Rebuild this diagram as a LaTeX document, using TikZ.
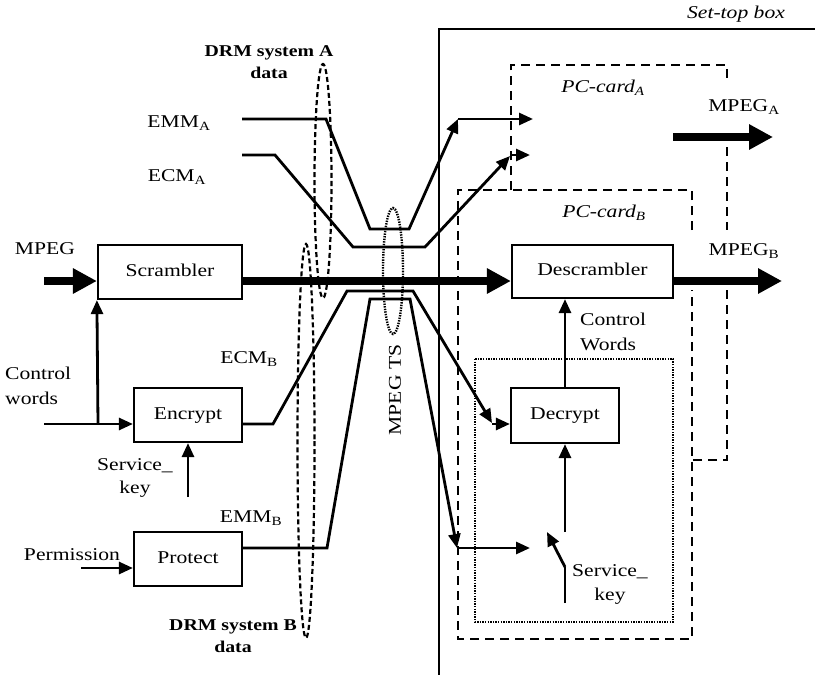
\documentclass[tikz,border=0pt]{standalone}
\usepackage{fontspec}
\setmainfont{Liberation Serif}[FakeStretch=1.2]
\usetikzlibrary{arrows.meta}
\begin{document}
\begin{tikzpicture}[x=1pt,y=-1pt, font=\fontsize{18}{22}\selectfont,
  box/.style={draw, line width=2.2pt, inner sep=0pt, text height=12pt, text depth=4pt},
  ln/.style={line width=2.8pt},
  arr/.style={line width=2.8pt, -{Triangle[length=14pt,width=12pt]}},
  thickarr/.style={line width=8pt, -{Triangle[length=24pt,width=24pt]}},
  dsh/.style={line width=2.8pt, dash pattern=on 9pt off 6pt},
  dotbox/.style={line width=2.4pt, dash pattern=on 1.4pt off 1.2pt},
  ell/.style={line width=2.2pt, dash pattern=on 5pt off 3pt},
  lbl/.style={inner sep=0pt},
  drm/.style={inner sep=0pt, align=center, font=\fontsize{16.5}{22}\selectfont\bfseries},
]
\useasboundingbox (0,0) rectangle (815,675);

% set-top box
\draw[line width=1.2pt] (439,675) -- (439,29) -- (815,29);
\node[lbl, font=\fontsize{18}{22}\selectfont\itshape] (stb) at (736,14) {Set-top box};

% PC cards
\draw[dsh] (511,190) -- (511,65) -- (727,65) -- (727,83);
\draw[dsh] (727,147) -- (727,230);
\draw[dsh] (727,290) -- (727,460) -- (692,460);
\draw[dsh] (692,230) -- (692,190) -- (458,190) -- (458,639) -- (692,639) -- (692,290);
\draw[dotbox] (475,359) rectangle (673,622);
\node[lbl, font=\fontsize{18}{22}\selectfont\itshape] (pca) at (603,88) {PC-card\textsubscript{A}};
\node[lbl, font=\fontsize{18}{22}\selectfont\itshape] (pcb) at (604,213) {PC-card\textsubscript{B}};

% boxes
\node[box, minimum width=144pt, minimum height=54pt] (scr) at (170,272) {Scrambler};
\node[box, minimum width=108pt, minimum height=54pt] (enc) at (188,415) {Encrypt};
\node[box, minimum width=108pt, minimum height=54pt] (prot) at (188,559) {Protect};
\node[box, minimum width=161pt, minimum height=53pt] (desc) at (592.5,271.5) {Descrambler};
\node[box, minimum width=108pt, minimum height=55pt] (dec) at (565,415.5) {Decrypt};

% labels
\node[lbl] (mpeg) at (45,249) {MPEG};
\node[lbl, anchor=west, align=left, font=\fontsize{18}{25}\selectfont] (cw) at (5,386) {Control\\words};
\node[lbl, align=center, font=\fontsize{18}{23}\selectfont] (sk) at (135,478) {Service\_\\key};
\node[lbl] (perm) at (72,555) {Permission};
\node[lbl] (emmal) at (179,123) {EMM\textsubscript{A}};
\node[lbl] (ecmal) at (177,177) {ECM\textsubscript{A}};
\node[lbl] (ecmbl) at (249,359) {ECM\textsubscript{B}};
\node[lbl] (emmbl) at (251,518) {EMM\textsubscript{B}};
\node[drm] (drma) at (269,62) {DRM system A\\data};
\node[drm] (drmb) at (233,636) {DRM system B\\data};
\node[lbl, rotate=90] (ts) at (395,390) {MPEG TS};
\node[lbl] (mpa) at (744,107) {MPEG\textsubscript{A}};
\node[lbl] (mpb) at (744,251) {MPEG\textsubscript{B}};
\node[lbl, anchor=west, align=left, font=\fontsize{18}{25}\selectfont] (cwr) at (580,332) {Control\\Words};
\node[lbl, align=center, font=\fontsize{18}{24}\selectfont] (skr) at (610,584) {Service\_\\key};

% coordinates
\coordinate (mpin) at (44,281);
\coordinate (cwin) at (44,424);
\coordinate (cwbr) at (98,424);
\coordinate (skin) at (188,497);
\coordinate (permin) at (81,568);
\coordinate (emmA) at (242,119);
\coordinate (ecmA) at (242,155);
\coordinate (emmAe) at (458,119);
\coordinate (ecmAe) at (510,156);
\coordinate (ecmBe) at (492,423);
\coordinate (emmBe) at (457,548);
\coordinate (swin) at (530,548);
\coordinate (swtip) at (547,532);
\coordinate (swpiv) at (565,567);
\coordinate (swbot) at (565,603);
\coordinate (swtop) at (565,532);
\coordinate (mpaS) at (673,137);
\coordinate (mpaE) at (773,137);
\coordinate (mpbE) at (782,281);

% MPEG stream
\draw[thickarr] (mpin) -- (scr.west |- mpin);
\draw[thickarr] (scr.east |- mpin) -- (desc.west |- mpin);
\draw[thickarr] (desc.east |- mpin) -- (mpbE);
\draw[thickarr] (mpaS) -- (mpaE);

% control words
\draw[arr] (cwin) -- (enc.west |- cwin);
\draw[arr] (cwbr) -- (scr.south west);
\draw[arr] (skin) -- (enc.south);
\draw[arr] (permin) -- (prot.west |- permin);

% DRM A
\draw[ln, -{Triangle[length=14pt,width=12pt]}] (emmA) -- (326,119) -- (370,229) -- (409,229) -- (emmAe);
\draw[arr] (emmAe) -- (533,119);
\draw[ln, -{Triangle[length=14pt,width=12pt]}] (ecmA) -- (275,155) -- (353,247) -- (425,247) -- (ecmAe);
\draw[arr] (ecmAe |- ecmA) -- (530,155);

% DRM B
\draw[ln, -{Triangle[length=14pt,width=12pt]}] (enc.east |- cwin) -- (273,424) -- (347,291) -- (413,291) -- (ecmBe);
\draw[arr] (ecmBe |- cwin) -- (dec.west |- cwin);
\draw[ln, -{Triangle[length=14pt,width=12pt]}] (prot.east |- emmBe) -- (327,548) -- (370,299) -- (410,299) -- (emmBe);
\draw[arr] (emmBe) -- (swin);

% receiver
\draw[line width=1.6pt] (swbot) -- (swpiv);
\draw[arr] (swpiv) -- (swtip);
\draw[arr] (swtop) -- (dec.south);
\draw[arr] (dec.north) -- (dec.north |- desc.south);

% ellipses
\draw[ell] (323,181) ellipse [x radius=8.5, y radius=117];
\draw[ell] (306,441) ellipse [x radius=8.5, y radius=197];
\draw[dotbox] (393,271) ellipse [x radius=10, y radius=63];
\end{tikzpicture}
\end{document}
